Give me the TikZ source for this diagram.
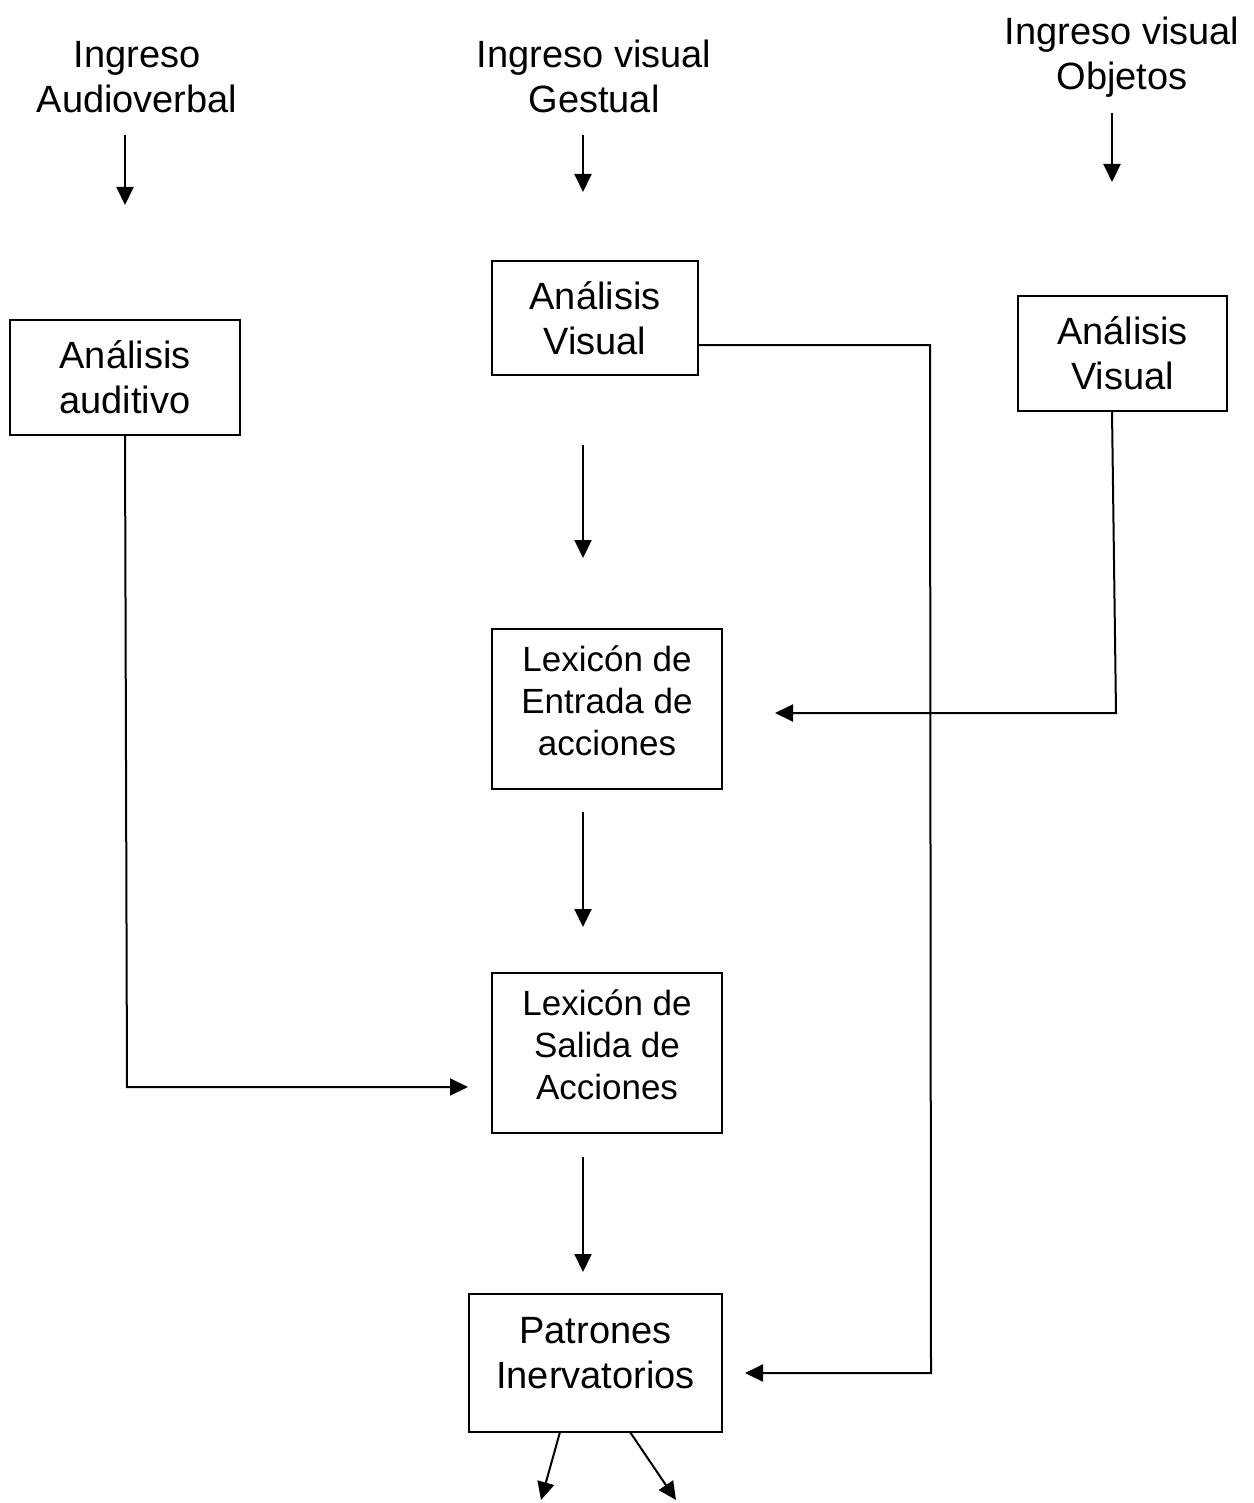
\documentclass[tikz,border=0pt]{standalone}
\usepackage{fontspec}
\setmainfont{Liberation Sans}
\usetikzlibrary{arrows.meta,calc}

\begin{document}
\begin{tikzpicture}[x=0.5pt,y=-0.5pt,
  every node/.style={inner sep=0pt,outer sep=0pt},
  lbl/.style={align=center,font=\fontsize{19}{22.5}\selectfont},
  box/.style={draw,line width=1pt,align=center,font=\fontsize{19}{22.5}\selectfont},
  lexbox/.style={box,font=\fontsize{17.5}{21}\selectfont,minimum width=115pt,minimum height=80pt,text depth=8pt},
  arr/.style={line width=1pt,-{Triangle[length=9pt,width=8.5pt]}}]

\useasboundingbox (0,0) rectangle (1253,1503);

% input labels (base anchor sits on the last line)
\node[lbl,anchor=base] (inAud) at (137,113) {Ingreso\\Audioverbal};
\node[lbl,anchor=base] (inGes) at (594,113) {Ingreso visual\\Gestual};
\node[lbl,anchor=base] (inObj) at (1122,90) {Ingreso visual\\Objetos};

% boxes
\node[box,minimum width=115pt,minimum height=57.5pt] (aud) at (125,377.5) {Análisis\\auditivo};
\node[box,minimum width=103pt,minimum height=57pt] (visC) at (595,318) {Análisis\\Visual};
\node[box,minimum width=104.5pt,minimum height=57.5pt] (visR) at (1122.5,353.5) {Análisis\\Visual};
\node[lexbox] (lexE) at (607,709) {Lexicón de\\Entrada de\\acciones};
\node[lexbox] (lexS) at (607,1053) {Lexicón de\\Salida de\\Acciones};
\node[box,minimum width=126.5pt,minimum height=69pt,text depth=10pt] (pat) at (595.5,1363) {Patrones\\Inervatorios};

% free arrow ends
\coordinate (t1s) at (125,135);  \coordinate (t1e) at (125,205);
\coordinate (t2s) at (583,135);  \coordinate (t2e) at (583,192);
\coordinate (t3s) at (1112,113); \coordinate (t3e) at (1112,182);
\coordinate (m1s) at (583,445);  \coordinate (m1e) at (583,558);
\coordinate (m2s) at (583,812);  \coordinate (m2e) at (583,927);
\coordinate (m3s) at (583,1157); \coordinate (m3e) at (583,1272);
\coordinate (o1) at (541,1500);
\coordinate (o2) at (676,1500);

% bends of the long connectors
\coordinate (bA) at (930,345);
\coordinate (bB) at (931,1373);
\coordinate (bC) at (1116,713);
\coordinate (bD) at (127,1087);

\draw[arr] (t1s) -- (t1e);
\draw[arr] (t2s) -- (t2e);
\draw[arr] (t3s) -- (t3e);
\draw[arr] (m1s) -- (m1e);
\draw[arr] (m2s) -- (m2e);
\draw[arr] (m3s) -- (m3e);

\draw[arr,shorten >=11.5pt] (visC.east |- bA) -- (bA) -- (bB) -- (pat.east |- bB);
\draw[arr,shorten >=26.5pt] (visR.south -| 1112,0) -- (bC) -- (lexE.east |- bC);
\draw[arr,shorten >=12pt] (aud.south -| 125,0) -- (bD) -- (lexS.west |- bD);

\draw[arr] ([xshift=45.5pt]pat.south west) -- (o1);
\draw[arr] ([xshift=80.5pt]pat.south west) -- (o2);
\end{tikzpicture}
\end{document}
